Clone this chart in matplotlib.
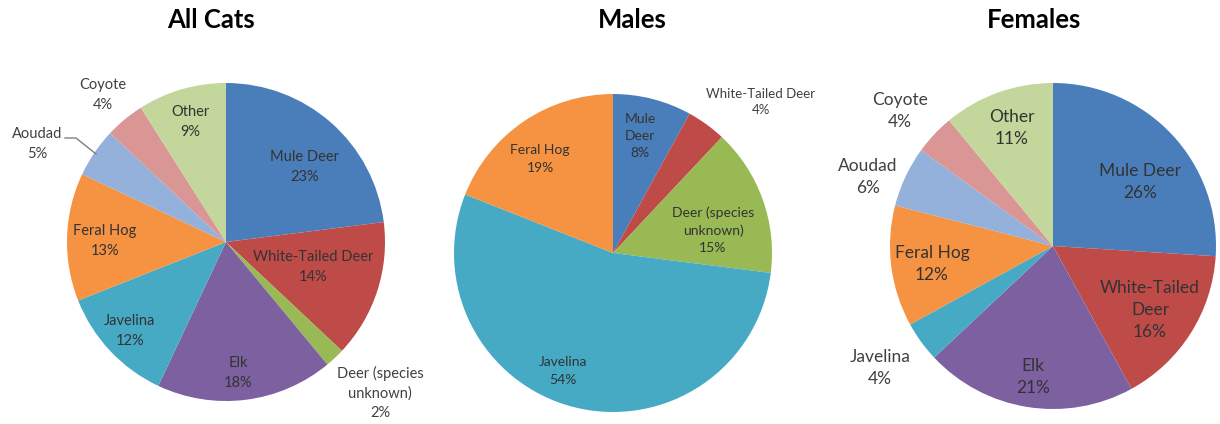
import matplotlib.pyplot as plt

# Data (percent of kills), slices listed clockwise from 12 o'clock
all_cats_species = ["Mule Deer", "White-Tailed Deer", "Deer (species unknown)", "Elk",
                    "Javelina", "Feral Hog", "Aoudad", "Coyote", "Other"]
all_cats_values = [23, 14, 2, 18, 12, 13, 5, 4, 9]

males_species = ["Mule Deer", "White-Tailed Deer", "Deer (species unknown)", "Javelina", "Feral Hog"]
males_values = [8, 4, 15, 54, 19]

females_species = ["Mule Deer", "White-Tailed Deer", "Elk", "Javelina",
                   "Feral Hog", "Aoudad", "Coyote", "Other"]
females_values = [26, 16, 21, 4, 12, 6, 4, 11]

titles = ["All Cats", "Males", "Females"]

# Excel 2007 style palette
species_colors = {
    "Mule Deer": "#4A7EBB",
    "White-Tailed Deer": "#BE4B48",
    "Deer (species unknown)": "#98B954",
    "Elk": "#7D60A0",
    "Javelina": "#46AAC5",
    "Feral Hog": "#F59342",
    "Aoudad": "#93B1DA",
    "Coyote": "#DA9694",
    "Other": "#C3D69B",
}

# how the label text is broken in each chart
line_breaks = [
    {"Deer (species unknown)": "Deer (species\nunknown)"},
    {"Mule Deer": "Mule\nDeer", "Deer (species unknown)": "Deer (species\nunknown)"},
    {"White-Tailed Deer": "White-Tailed\nDeer"},
]

# layout in pixels (y measured from top)
W, H = 1220, 424
pie_centers = [(226, 242), (613, 253), (1053, 246)]
pie_radii = [159, 159, 163]
title_pos = [(211, 20), (632, 20), (1034, 20)]
label_pos = [
    [(305, 167), (313, 267), (380, 393), (238, 373), (130, 331), (105, 241), (37, 144), (103, 95), (190, 122)],
    [(640, 136), (761, 102), (713, 230), (563, 371), (540, 159)],
    [(1140, 182), (1150, 310), (1033, 377), (880, 368), (932, 264), (868, 177), (900, 111), (1012, 128)],
]
outside = [
    {"Deer (species unknown)", "Aoudad", "Coyote"},
    {"White-Tailed Deer"},
    {"Javelina", "Aoudad", "Coyote"},
]
label_sizes = [10.5, 10, 12.5]
line_spacing = [1.5, 1.5, 1.45]

plt.rcParams["font.family"] = ["Lato", "DejaVu Sans"]

fig = plt.figure(figsize=(W / 100, H / 100), dpi=100)
ax = fig.add_axes([0, 0, 1, 1])

charts = [
    (all_cats_species, all_cats_values),
    (males_species, males_values),
    (females_species, females_values),
]

for i, (species, values) in enumerate(charts):
    cx, cy = pie_centers[i]
    ax.pie(values, colors=[species_colors[s] for s in species],
           startangle=90, counterclock=False,
           center=(cx, H - cy), radius=pie_radii[i],
           wedgeprops=dict(linewidth=0))
    for j, (name, val) in enumerate(zip(species, values)):
        text = line_breaks[i].get(name, name) + f"\n{val}%"
        lx, ly = label_pos[i][j]
        size = label_sizes[i]
        color = "#333333"
        if name in outside[i]:
            color = "#404040"
            if i == 1:
                size = 9.5
        ax.text(lx, H - ly, text, ha="center", va="center", fontsize=size,
                color=color, linespacing=line_spacing[i])
    tx, ty = title_pos[i]
    ax.text(tx, H - ty, titles[i], ha="center", va="center", fontsize=18.5,
            fontweight="bold", color="black")

# leader line for the Aoudad label
ax.plot([65, 76, 96], [H - 138, H - 138, H - 154], color="#7f7f7f", linewidth=1)

ax.set_xlim(0, W)
ax.set_ylim(0, H)
ax.set_aspect("equal")
ax.axis("off")

fig.savefig("out.png", dpi=100, facecolor="white")
